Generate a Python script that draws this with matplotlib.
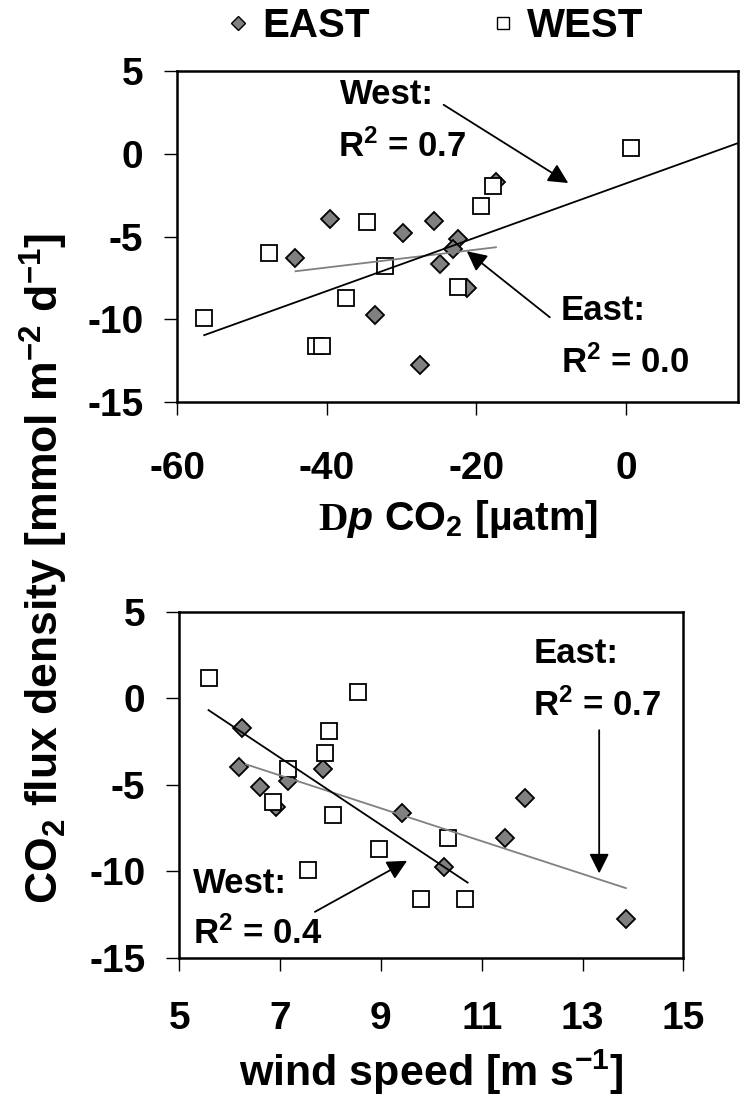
import numpy as np
import matplotlib
matplotlib.use("Agg")
from matplotlib import pyplot as plt
from matplotlib.lines import Line2D

plt.rcParams['font.family'] = ['Liberation Sans', 'DejaVu Sans']
plt.rcParams['font.weight'] = 'bold'
plt.rcParams['axes.labelweight'] = 'bold'
plt.rcParams['axes.unicode_minus'] = False
plt.rcParams['mathtext.fontset'] = 'custom'
plt.rcParams['mathtext.rm'] = 'Liberation Serif'
plt.rcParams['mathtext.it'] = 'Liberation Sans:italic:bold'
plt.rcParams['mathtext.bf'] = 'Liberation Sans:bold'

# CO2 flux density [mmol m-2 d-1], with wind speed and delta pCO2 for each station
east_flux = [-1.70, -3.95, -5.15, -6.30, -4.78, -4.07, -6.65, -9.74, -8.10, -5.76, -12.78]
east_wind = [6.24, 6.18, 6.61, 6.92, 7.16, 7.86, 9.41, 10.26, 11.46, 11.86, 13.86]
east_pco2 = [-17.4, -39.6, -22.5, -44.2, -29.8, -25.7, -24.9, -33.6, -21.3, -23.2, -27.5]

west_flux = [1.16, 0.37, -1.92, -3.17, -4.12, -5.98, -6.78, -8.73, -9.91, -8.06, -11.62, -11.60]
west_wind = [5.58, 8.54, 7.97, 7.90, 7.15, 6.85, 8.04, 8.96, 7.55, 10.34, 9.80, 10.67]
west_pco2 = [np.nan, 0.6, -17.8, -19.4, -34.6, -47.7, -32.2, -37.5, -56.4, -22.5, -41.5, -40.7]

# trendlines as drawn (end points)
east_pco2_fit_x = [-44.2, -17.4]
east_pco2_fit_y = [-7.10, -5.65]
west_pco2_fit_x = [-56.4, 15.0]
west_pco2_fit_y = [-10.96, 0.65]
east_wind_fit_x = [6.32, 13.86]
east_wind_fit_y = [-3.82, -10.98]
west_wind_fit_x = [5.58, 10.72]
west_wind_fit_y = [-0.69, -10.66]

GRAY = '#808080'
TICK_FS = 28
LABEL_FS = 31
ANN_FS = 25

fig = plt.figure(figsize=(7.56, 10.99), dpi=100)
ax1 = fig.add_axes([0.2345, 0.6342, 0.7421, 0.3012])
ax2 = fig.add_axes([0.2372, 0.1286, 0.6667, 0.3148])


def style_axes(ax, xpad):
    for s in ax.spines.values():
        s.set_linewidth(1.8)
    ax.tick_params(axis='both', direction='out', length=9.5, width=1.0,
                   labelsize=TICK_FS, top=False, right=False)
    ax.tick_params(axis='x', pad=xpad)
    ax.tick_params(axis='y', pad=15)
    ax.set_ylim(-15, 5)
    ax.set_yticks([-15, -10, -5, 0, 5])


def scatter(ax, xe, xw):
    ax.plot(xe, east_flux, linestyle='none', marker='D', markersize=9.5,
            markerfacecolor=GRAY, markeredgecolor='black', markeredgewidth=1.3, zorder=2)
    ax.plot(xw, west_flux, linestyle='none', marker='s', markersize=11,
            markerfacecolor='white', markeredgecolor='black', markeredgewidth=1.3, zorder=2)


def arrow(ax, tail, tip):
    ax.annotate('', xy=tip, xytext=tail,
                arrowprops=dict(arrowstyle='-|>,head_length=0.6,head_width=0.3',
                                mutation_scale=20, color='black', lw=1.3,
                                shrinkA=0, shrinkB=0))


# top panel: delta pCO2
scatter(ax1, east_pco2, west_pco2)
ax1.plot(east_pco2_fit_x, east_pco2_fit_y, color=GRAY, lw=1.3, zorder=3)
ax1.plot(west_pco2_fit_x, west_pco2_fit_y, color='black', lw=1.3, zorder=3)
ax1.set_xlim(-60, 15)
ax1.set_xticks([-60, -40, -20, 0])
style_axes(ax1, 26)
ax1.set_xlabel(r'$\mathrm{D}\mathit{p}$ CO$_\mathbf{2}$ [µatm]', fontsize=29.5, labelpad=8)

ax1.text(-38.2, 3.02, 'West:', fontsize=ANN_FS, ha='left', va='baseline')
ax1.text(-38.5, -0.2, r'R$^\mathbf{2}$ = 0.7', fontsize=ANN_FS, ha='left', va='baseline')
arrow(ax1, (-24.4, 2.96), (-7.73, -1.77))
ax1.text(-8.7, -10.02, 'East:', fontsize=ANN_FS, ha='left', va='baseline')
ax1.text(-8.7, -13.24, r'R$^\mathbf{2}$ = 0.0', fontsize=ANN_FS, ha='left', va='baseline')
arrow(ax1, (-10.2, -9.88), (-21.3, -5.89))

# bottom panel: wind speed
scatter(ax2, east_wind, west_wind)
ax2.plot(east_wind_fit_x, east_wind_fit_y, color=GRAY, lw=1.3, zorder=3)
ax2.plot(west_wind_fit_x, west_wind_fit_y, color='black', lw=1.3, zorder=3)
ax2.set_xlim(5, 15)
ax2.set_xticks([5, 7, 9, 11, 13, 15])
style_axes(ax2, 22)
ax2.set_xlabel(r'wind speed [m s$^\mathbf{-1}$]', fontsize=LABEL_FS, labelpad=7)

ax2.text(12.02, 2.06, 'East:', fontsize=ANN_FS, ha='left', va='baseline')
ax2.text(12.02, -1.02, r'R$^\mathbf{2}$ = 0.7', fontsize=ANN_FS, ha='left', va='baseline')
arrow(ax2, (13.33, -1.85), (13.33, -10.13))
ax2.text(5.27, -11.24, 'West:', fontsize=ANN_FS, ha='left', va='baseline')
ax2.text(5.27, -14.22, r'R$^\mathbf{2}$ = 0.4', fontsize=ANN_FS, ha='left', va='baseline')
arrow(ax2, (7.69, -12.35), (9.52, -9.40))

# shared y label
fig.text(0.058, 0.483, r'CO$_\mathbf{2}$ flux density [mmol m$^\mathbf{-2}$ d$^\mathbf{-1}$]',
         rotation=90, ha='center', va='center', fontsize=32)

# legend
handles = [
    Line2D([], [], linestyle='none', marker='D', markersize=7.5, markerfacecolor=GRAY,
           markeredgecolor='black', markeredgewidth=1.0),
    Line2D([], [], linestyle='none', marker='s', markersize=9, markerfacecolor='white',
           markeredgecolor='black', markeredgewidth=1.0),
]
fig.legend(handles, ['EAST', 'WEST'], loc='center', bbox_to_anchor=(0.572, 0.976),
           ncol=2, frameon=False, fontsize=29, handlelength=0.8, handletextpad=0.2,
           columnspacing=2.9, borderpad=0)

fig.savefig('out.png', dpi=100)
